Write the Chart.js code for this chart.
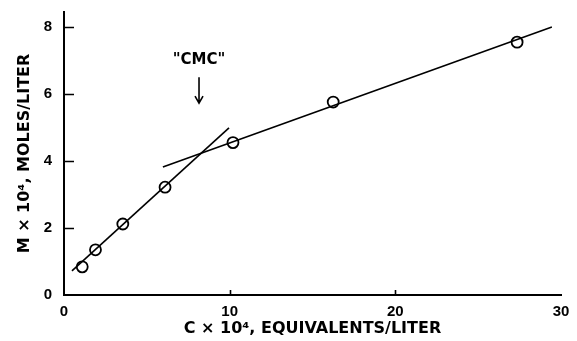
<!DOCTYPE html>
<html>
<head>
<meta charset="utf-8">
<script src="https://cdn.jsdelivr.net/npm/chart.js@4/dist/chart.umd.min.js"></script>
<style>
  html, body { margin: 0; padding: 0; background: #fff; }
  #wrap { width: 577px; height: 341px; }
</style>
</head>
<body>
<div id="wrap"><canvas id="chart" width="577" height="341"></canvas></div>
<script>
// Measured points: surfactant concentration C (×10⁴ equiv/L) vs. M (×10⁴ mol/L)
const concentration = [1.1, 1.9, 3.55, 6.1, 10.2, 16.25, 27.35];
const molarity      = [0.84, 1.35, 2.12, 3.22, 4.55, 5.76, 7.55];

// Straight-line fits below and above the break
const belowFitC = [0.48, 9.96];
const belowFitM = [0.72, 4.99];
const aboveFitC = [5.97, 29.45];
const aboveFitM = [3.82, 8.0];

// "CMC" marker: label position and arrow span (data units)
const cmcLabel = '"CMC"';
const cmcC = 8.15;
const cmcLabelM = 7.0;
const cmcArrowFromM = 6.5;
const cmcArrowToM = 5.73;

// Axis ranges and ticks
const xTicks = [0, 10, 20, 30];
const yTicks = [0, 2, 4, 6, 8];
const xRange = [0, 30];
const yRange = [0, 8.45];

const toXY = (xs, ys) => xs.map((x, i) => ({ x: x, y: ys[i] }));

// Tick marks drawn on the inside of both axes
const innerTicks = {
  id: 'innerTicks',
  afterDraw(chart) {
    const { ctx, scales, chartArea } = chart;
    ctx.save();
    ctx.strokeStyle = '#000';
    ctx.lineWidth = 1.6;
    ctx.beginPath();
    scales.y.ticks.forEach(t => {
      if (t.value === yRange[0]) return;
      const y = Math.round(scales.y.getPixelForValue(t.value)) + 0.5;
      ctx.moveTo(chartArea.left, y);
      ctx.lineTo(chartArea.left + 10, y);
    });
    scales.x.ticks.forEach(t => {
      if (t.value === xRange[0] || t.value === xRange[1]) return;
      const x = Math.round(scales.x.getPixelForValue(t.value)) + 0.5;
      ctx.moveTo(x, chartArea.bottom);
      ctx.lineTo(x, chartArea.bottom - 5);
    });
    ctx.stroke();
    ctx.restore();
  }
};

const cmcMarker = {
  id: 'cmcMarker',
  afterDatasetsDraw(chart) {
    const { ctx, scales } = chart;
    const x = scales.x.getPixelForValue(cmcC);
    const yText = scales.y.getPixelForValue(cmcLabelM);
    const y0 = scales.y.getPixelForValue(cmcArrowFromM);
    const y1 = scales.y.getPixelForValue(cmcArrowToM);
    ctx.save();
    ctx.fillStyle = '#000';
    ctx.strokeStyle = '#000';
    ctx.font = 'bold 15px "DejaVu Sans"';
    ctx.textAlign = 'center';
    ctx.textBaseline = 'middle';
    ctx.fillText(cmcLabel, x, yText);
    ctx.lineWidth = 1.6;
    ctx.beginPath();
    ctx.moveTo(x, y0);
    ctx.lineTo(x, y1);
    ctx.moveTo(x - 4, y1 - 7);
    ctx.lineTo(x, y1);
    ctx.lineTo(x + 4, y1 - 7);
    ctx.stroke();
    ctx.restore();
  }
};

const tickFont = { family: '"Liberation Sans"', size: 15, weight: 'bold' };
const titleFont = { family: '"DejaVu Sans"', size: 16, weight: 'bold' };

new Chart(document.getElementById('chart'), {
  type: 'scatter',
  data: {
    datasets: [
      {
        data: toXY(belowFitC, belowFitM),
        showLine: true,
        borderColor: '#000',
        borderWidth: 1.6,
        pointRadius: 0,
        fill: false
      },
      {
        data: toXY(aboveFitC, aboveFitM),
        showLine: true,
        borderColor: '#000',
        borderWidth: 1.6,
        pointRadius: 0,
        fill: false
      },
      {
        data: toXY(concentration, molarity),
        showLine: false,
        pointRadius: 5.5,
        pointBorderWidth: 1.8,
        pointBorderColor: '#000',
        pointBackgroundColor: '#fff'
      }
    ]
  },
  options: {
    responsive: false,
    animation: false,
    layout: { padding: { left: 5, right: 16, top: 12, bottom: 0 } },
    plugins: { legend: { display: false }, tooltip: { enabled: false } },
    scales: {
      x: {
        type: 'linear',
        min: xRange[0],
        max: xRange[1],
        afterBuildTicks: (s) => { s.ticks = xTicks.map(v => ({ value: v })); },
        afterFit: (s) => { s.height = 46; s.paddingLeft = 0; s.paddingRight = 0; },
        border: { display: true, color: '#000', width: 2 },
        grid: { drawOnChartArea: false, drawTicks: false },
        ticks: { color: '#000', padding: 8, font: tickFont },
        title: {
          display: true,
          text: 'C × 10⁴, EQUIVALENTS/LITER',
          color: '#000',
          padding: { top: 0, bottom: 3 },
          font: titleFont
        }
      },
      y: {
        type: 'linear',
        min: yRange[0],
        max: yRange[1],
        afterBuildTicks: (s) => { s.ticks = yTicks.map(v => ({ value: v })); },
        afterFit: (s) => { s.width = 59; s.paddingTop = 0; s.paddingBottom = 0; },
        border: { display: true, color: '#000', width: 2 },
        grid: { drawOnChartArea: false, drawTicks: false },
        ticks: { color: '#000', padding: 12, font: tickFont },
        title: {
          display: true,
          text: 'M × 10⁴, MOLES/LITER',
          color: '#000',
          padding: { top: 10, bottom: 0 },
          font: titleFont
        }
      }
    }
  },
  plugins: [innerTicks, cmcMarker]
});
</script>
</body>
</html>
